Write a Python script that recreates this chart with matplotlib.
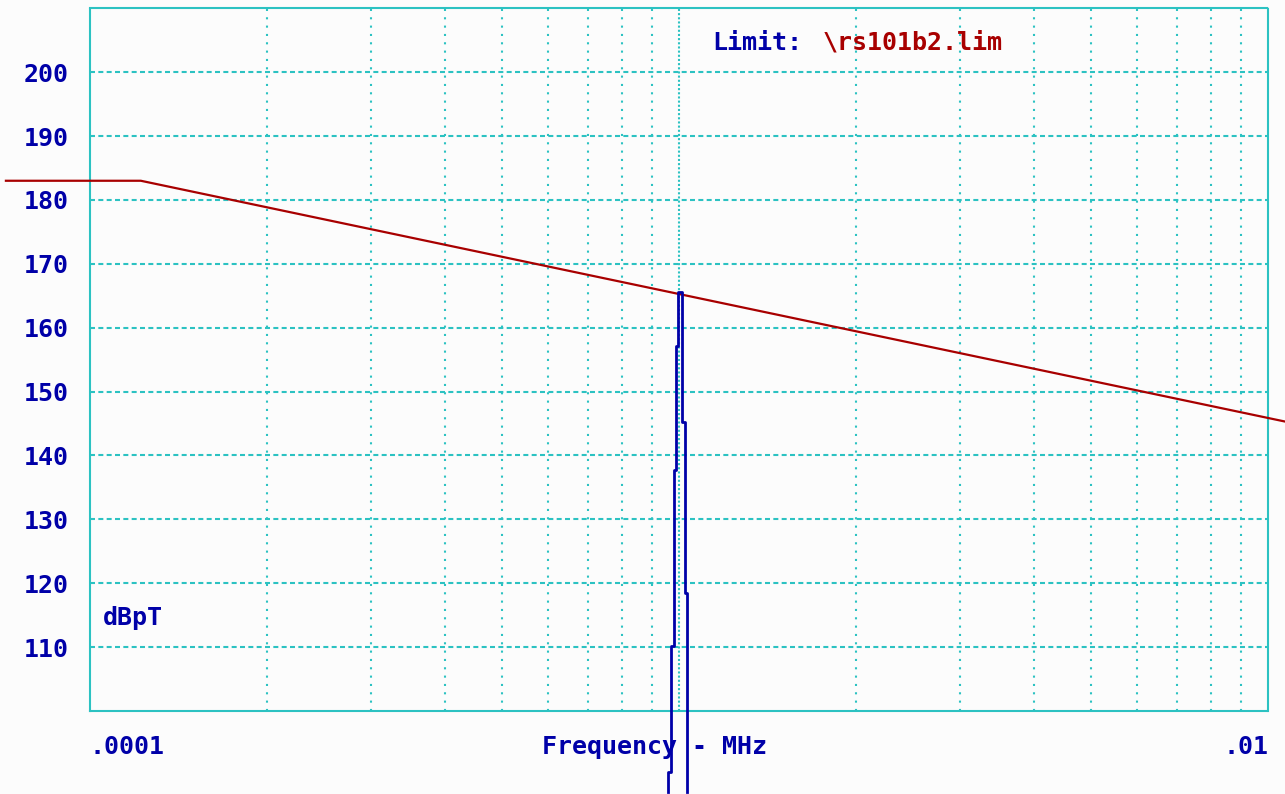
import matplotlib.pyplot as plt
from matplotlib.transforms import blended_transform_factory

# limit line (MHz, dBpT)
limit_freq = [7.2e-5, 1.22e-4, 1.07e-2]
limit_level = [183.0, 183.0, 145.3]

# measured trace around 1 kHz
trace_freq = [9.58e-4, 9.58e-4, 9.69e-4, 9.69e-4, 9.81e-4, 9.81e-4, 9.88e-4, 9.88e-4,
              9.96e-4, 9.96e-4, 1.012e-3, 1.012e-3, 1.024e-3, 1.024e-3, 1.032e-3, 1.032e-3]
trace_level = [87.4, 90.4, 90.4, 110.2, 110.2, 137.7, 137.7, 157.2,
               157.2, 165.6, 165.6, 145.2, 145.2, 118.5, 118.5, 87.4]

y_ticks = [110, 120, 130, 140, 150, 160, 170, 180, 190, 200]
x_minor = [2e-4, 3e-4, 4e-4, 5e-4, 6e-4, 7e-4, 8e-4, 9e-4,
           2e-3, 3e-3, 4e-3, 5e-3, 6e-3, 7e-3, 8e-3, 9e-3]
x_decade = [1e-3]
x_tick_vals = [1e-4, 1e-2]
x_tick_labels = ['.0001', '.01']

BLUE = '#0000a8'
RED = '#a80000'
GRID = '#2cc2c2'
BG = '#fcfcfc'
FONT = dict(family='DejaVu Sans Mono', weight='bold', size=18)

fig = plt.figure(figsize=(12.85, 7.94), dpi=100, facecolor=BG)
ax = fig.add_axes([0.0700, 0.1045, 0.9168, 0.8851], facecolor=BG)

ax.set_xscale('log')
ax.set_xlim(1e-4, 1e-2)
ax.set_ylim(100, 210)

# grid
for y in y_ticks:
    ax.axhline(y, color=GRID, lw=1.5, ls=(0, (2.4, 1.6)), zorder=1)
for x in x_minor:
    ax.axvline(x, color=GRID, lw=1.5, ls=(0, (1, 3)), zorder=1)
for x in x_decade:
    ax.axvline(x, color=GRID, lw=1.5, ls=(0, (1, 1)), zorder=1)
for s in ax.spines.values():
    s.set_color(GRID)
    s.set_linewidth(1.5)
    s.set_linestyle((0, (1, 1)))

ax.plot(limit_freq, limit_level, color=RED, lw=1.6, clip_on=False, zorder=3)
ax.plot(trace_freq, trace_level, color=BLUE, lw=2.0, clip_on=False, zorder=4)

ax.set_yticks(y_ticks)
ax.set_yticklabels([str(v) for v in y_ticks], color=BLUE, **FONT)
ax.tick_params(axis='y', length=0, pad=15)
ax.set_xticks([])
ax.minorticks_off()

bx = blended_transform_factory(ax.transData, ax.transAxes)
for v, lab, ha in zip(x_tick_vals, x_tick_labels, ['left', 'right']):
    ax.text(v, -0.0512, lab, ha=ha, va='center', color=BLUE, transform=bx, **FONT)

ax.text(0.4788, -0.0512, 'Frequency - MHz', ha='center', va='center',
        color=BLUE, transform=ax.transAxes, **FONT)

by = blended_transform_factory(ax.transAxes, ax.transData)
ax.text(0.011, 114.6, 'dBpT', ha='left', va='center', color=BLUE, transform=by, **FONT)

ax.text(0.5280, 0.9506, 'Limit:', ha='left', va='center', color=BLUE,
        transform=ax.transAxes, **FONT)
ax.text(0.6222, 0.9506, '\\rs101b2.lim', ha='left', va='center', color=RED,
        transform=ax.transAxes, **FONT)

fig.savefig('out.png', dpi=100, facecolor=BG)
